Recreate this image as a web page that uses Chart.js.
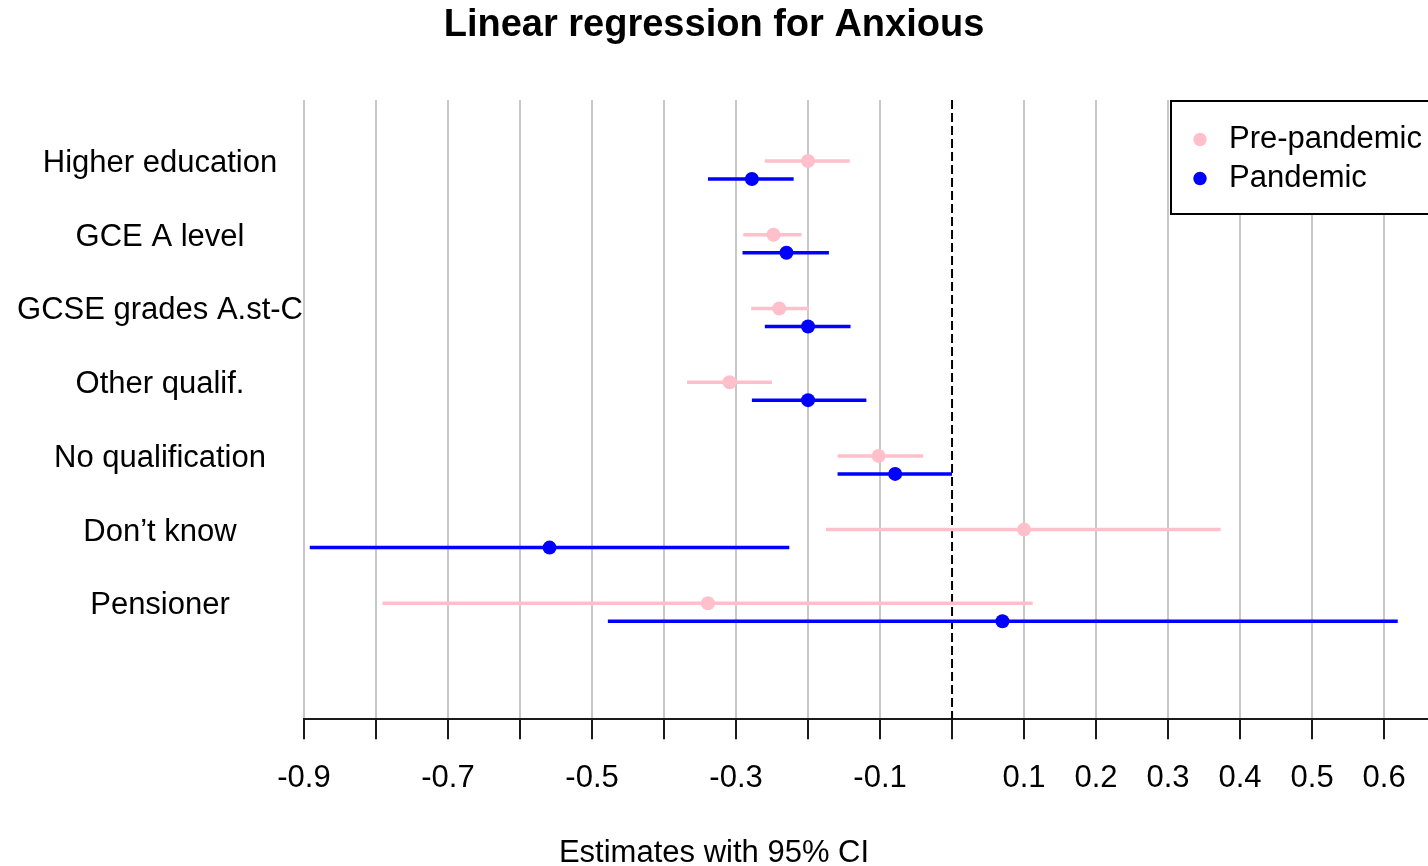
<!DOCTYPE html>
<html>
<head>
<meta charset="utf-8">
<title>Linear regression for Anxious</title>
<script src="https://cdn.jsdelivr.net/npm/chart.js@4.4.1/dist/chart.umd.min.js"></script>
<style>
  html, body { margin: 0; padding: 0; background: #ffffff; overflow: hidden; }
  #wrap { position: relative; width: 1428px; height: 866px; }
</style>
</head>
<body>
<div id="wrap"><canvas id="chart"></canvas></div>
<script>
// Education categories, top to bottom
const categories = ["Higher education", "GCE A level", "GCSE grades A.st-C", "Other qualif.", "No qualification", "Don\u2019t know", "Pensioner"];
const seriesNames = ["Pre-pandemic", "Pandemic"];

// Pre-pandemic estimates with 95% CI bounds
const preEstimate = [-0.200, -0.248, -0.240, -0.309, -0.102, 0.100, -0.339];
const preLower    = [-0.260, -0.290, -0.279, -0.368, -0.159, -0.175, -0.791];
const preUpper    = [-0.142, -0.209, -0.199, -0.250, -0.040, 0.373, 0.112];

// Pandemic estimates with 95% CI bounds
const panEstimate = [-0.278, -0.230, -0.200, -0.200, -0.079, -0.559, 0.070];
const panLower    = [-0.339, -0.291, -0.260, -0.278, -0.159, -0.892, -0.478];
const panUpper    = [-0.220, -0.171, -0.141, -0.119, 0.000, -0.226, 0.619];

// X axis ticks; some ticks carry no label
const xTickValues = [-0.9, -0.8, -0.7, -0.6, -0.5, -0.4, -0.3, -0.2, -0.1, 0, 0.1, 0.2, 0.3, 0.4, 0.5, 0.6];
const xTickLabels = ["-0.9", "", "-0.7", "", "-0.5", "", "-0.3", "", "-0.1", "", "0.1", "0.2", "0.3", "0.4", "0.5", "0.6"];

// Axis extents
const X_MIN = -0.9, X_MAX = 0.661;
const Y_MIN = -0.95, Y_MAX = 7.45;
// Vertical shift of each series within a row, and of the row labels
const ROW_SHIFT = 0.122;
const LABEL_SHIFT = 0.09;

const PINK = '#FFC0CB';
const BLUE = '#0000FF';
const FONT = "'Liberation Sans', Arial, Helvetica, sans-serif";

Chart.defaults.font.family = FONT;
Chart.defaults.color = '#000000';

function estimatePoints(est, shift) {
  return categories.map((c, i) => ({ x: est[i], y: i + shift }));
}
function intervalSegments(lower, upper, shift) {
  const pts = [];
  categories.forEach((c, i) => {
    pts.push({ x: lower[i], y: i + shift }, { x: upper[i], y: i + shift }, { x: null, y: null });
  });
  return pts;
}

// Legend frame placement
const LEGEND_FRAME = { left: 1171, top: 101, right: 1440, bottom: 214 };

const legendFrame = {
  id: 'legendFrame',
  afterLayout(chart) {
    const lg = chart.legend;
    if (!lg) return;
    lg.left = LEGEND_FRAME.left + 7.5;
    lg.top = LEGEND_FRAME.top + 15;
    lg.right = chart.width;
    lg.bottom = LEGEND_FRAME.bottom;
    lg.width = lg.right - lg.left;
    lg.height = lg.bottom - lg.top;
  },
  afterDraw(chart) {
    const ctx = chart.ctx;
    ctx.save();
    ctx.fillStyle = '#ffffff';
    ctx.fillRect(LEGEND_FRAME.left, LEGEND_FRAME.top, LEGEND_FRAME.right - LEGEND_FRAME.left, LEGEND_FRAME.bottom - LEGEND_FRAME.top);
    ctx.strokeStyle = '#000000';
    ctx.lineWidth = 2;
    ctx.strokeRect(LEGEND_FRAME.left, LEGEND_FRAME.top, LEGEND_FRAME.right - LEGEND_FRAME.left, LEGEND_FRAME.bottom - LEGEND_FRAME.top);
    ctx.restore();
    chart.legend.draw(chart.chartArea);
  }
};

const datasets = [
  {
    type: 'scatter', label: seriesNames[0], data: estimatePoints(preEstimate, -ROW_SHIFT),
    backgroundColor: PINK, borderColor: PINK, borderWidth: 0, pointRadius: 7, pointStyle: 'circle'
  },
  {
    type: 'scatter', label: seriesNames[1], data: estimatePoints(panEstimate, ROW_SHIFT),
    backgroundColor: BLUE, borderColor: BLUE, borderWidth: 0, pointRadius: 7, pointStyle: 'circle'
  },
  {
    type: 'line', label: seriesNames[0] + ' 95% CI', data: intervalSegments(preLower, preUpper, -ROW_SHIFT),
    borderColor: PINK, borderWidth: 3.5, pointRadius: 0, fill: false, spanGaps: false, tension: 0
  },
  {
    type: 'line', label: seriesNames[1] + ' 95% CI', data: intervalSegments(panLower, panUpper, ROW_SHIFT),
    borderColor: BLUE, borderWidth: 3.5, pointRadius: 0, fill: false, spanGaps: false, tension: 0
  },
  {
    type: 'line', label: 'zero', data: [{ x: 0, y: Y_MIN }, { x: 0, y: Y_MAX }],
    borderColor: '#000000', borderWidth: 2, borderDash: [9, 4], pointRadius: 0, fill: false
  }
];

new Chart(document.getElementById('chart'), {
  type: 'scatter',
  data: { datasets },
  plugins: [legendFrame],
  options: {
    responsive: true,
    maintainAspectRatio: false,
    animation: false,
    events: [],
    layout: { padding: 0, autoPadding: false },
    scales: {
      x: {
        type: 'linear', position: 'bottom', min: X_MIN, max: X_MAX,
        afterBuildTicks: (s) => { s.ticks = xTickValues.map(v => ({ value: v })); },
        afterFit: (s) => { s.height = 122; s.paddingLeft = 0; s.paddingRight = 0; },
        grid: {
          color: (c) => (c.tick && c.tick.value === 0) ? 'rgba(0,0,0,0)' : '#c8c8c8',
          lineWidth: 2, tickColor: '#1a1a1a', tickWidth: 2, tickLength: 20
        },
        border: { display: true, color: '#1a1a1a', width: 2 },
        ticks: {
          autoSkip: false, maxRotation: 0, minRotation: 0, padding: 21,
          font: { size: 31 }, color: '#000000',
          callback: (v, idx) => xTickLabels[idx]
        }
      },
      y: {
        type: 'linear', position: 'left', reverse: true, min: Y_MIN, max: Y_MAX,
        afterBuildTicks: (s) => { s.ticks = categories.map((c, i) => ({ value: i - LABEL_SHIFT })); },
        afterFit: (s) => { s.width = 304; },
        grid: { display: false, drawTicks: false },
        border: { display: false },
        ticks: {
          autoSkip: false, crossAlign: 'center', padding: 1,
          font: { size: 31 }, color: '#000000',
          callback: (v, idx) => categories[idx]
        }
      }
    },
    plugins: {
      title: {
        display: true, text: 'Linear regression for Anxious', color: '#000000',
        font: { size: 38, weight: 'bold' }, padding: { top: 2.5, bottom: 51.9 }
      },
      subtitle: {
        display: true, position: 'bottom', text: 'Estimates with 95% CI', color: '#000000',
        font: { size: 31, weight: 'normal', lineHeight: 0.8 }, padding: { top: 0, bottom: 0 }
      },
      legend: {
        display: true, position: 'chartArea', align: 'start',
        labels: {
          usePointStyle: true, pointStyle: 'circle', boxWidth: 27, boxHeight: 9.5, padding: 8,
          font: { size: 31 }, color: '#000000',
          filter: (item) => seriesNames.includes(item.text)
        }
      },
      tooltip: { enabled: false }
    }
  }
});
</script>
</body>
</html>
